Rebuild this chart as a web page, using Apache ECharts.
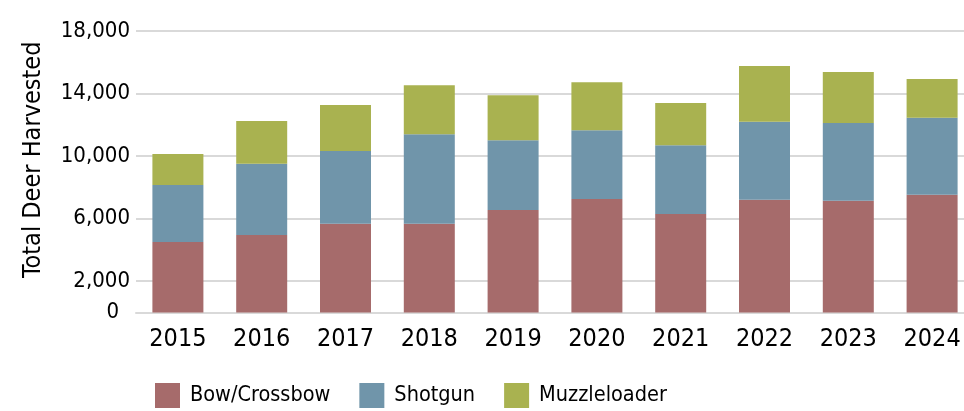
<!DOCTYPE html>
<html>
<head>
<meta charset="utf-8">
<script src="https://cdn.jsdelivr.net/npm/echarts@6/dist/echarts.min.js"></script>
<style>
  html, body { margin: 0; padding: 0; background: #fff; }
  #chart { width: 964px; height: 411px; }
</style>
</head>
<body>
<div id="chart"></div>
<script>
// deer harvest by method
var years = ['2015', '2016', '2017', '2018', '2019', '2020', '2021', '2022', '2023', '2024'];
var bow = [4510, 4960, 5680, 5680, 6550, 7260, 6300, 7210, 7150, 7530];
var shotgun = [3640, 4550, 4650, 5720, 4470, 4400, 4400, 4990, 4970, 4925];
var muzzle = [1980, 2730, 2940, 3130, 2870, 3060, 2690, 3560, 3260, 2475];
var yLabels = [0, 2000, 6000, 10000, 14000, 18000];

var font = '"DejaVu Sans Condensed", "Liberation Sans Narrow", sans-serif';

// gridlines only where a label shows (0..18000 step 2000)
var gridColors = [];
for (var v = 0; v <= 18000; v += 2000) {
  gridColors.push(yLabels.indexOf(v) >= 0 ? '#d9d9d9' : 'rgba(0,0,0,0)');
}

function fmt(val) {
  if (yLabels.indexOf(val) < 0) return '';
  if (val === 0) return '{z|0}';
  return val.toString().replace(/\B(?=(\d{3})+(?!\d))/g, ',');
}

var chart = echarts.init(document.getElementById('chart'));
chart.setOption({
  animation: false,
  textStyle: { fontFamily: font },
  grid: { left: 136, width: 838, top: 31, bottom: 98.5, outerBoundsMode: 'none', containLabel: false },
  legend: {
    left: 155, top: 383, padding: 0,
    itemWidth: 25, itemHeight: 25, itemGap: 29,
    icon: 'rect',
    textStyle: { fontFamily: font, fontSize: 21.5, color: '#000', padding: [0, 0, 0, 5] },
    data: ['Bow/Crossbow', 'Shotgun', 'Muzzleloader']
  },
  xAxis: {
    type: 'category',
    data: years,
    axisLine: { lineStyle: { color: '#d9d9d9', width: 2 } },
    axisTick: { show: false },
    axisLabel: { fontFamily: font, fontSize: 25, color: '#000', margin: 14 }
  },
  yAxis: {
    type: 'value',
    min: 0, max: 18000, interval: 2000,
    name: 'Total Deer Harvested',
    nameLocation: 'middle',
    nameGap: 90,
    nameTextStyle: { fontFamily: font, fontSize: 25, color: '#000', padding: [0, 0, 0, 24] },
    axisLine: { show: false },
    axisTick: { show: false },
    splitLine: { lineStyle: { color: gridColors, width: 2 } },
    axisLabel: {
      fontFamily: font, fontSize: 22, color: '#000', margin: 6, formatter: fmt,
      rich: { z: { fontFamily: font, fontSize: 22, color: '#000', padding: [0, 11, 0, 0] } }
    }
  },
  series: [
    { name: 'Bow/Crossbow', type: 'bar', stack: 'all', barWidth: 51, data: bow, itemStyle: { color: '#a66b6b' } },
    { name: 'Shotgun', type: 'bar', stack: 'all', data: shotgun, itemStyle: { color: '#7095aa' } },
    { name: 'Muzzleloader', type: 'bar', stack: 'all', data: muzzle, itemStyle: { color: '#a9b250' } }
  ]
});
</script>
</body>
</html>
